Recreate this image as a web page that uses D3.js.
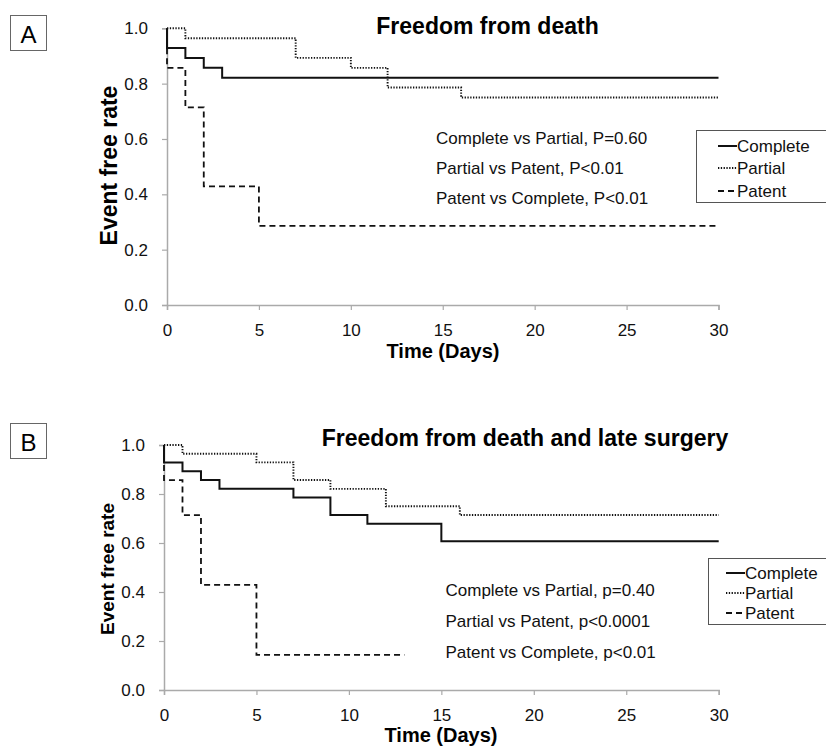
<!DOCTYPE html>
<html><head><meta charset="utf-8">
<script src="https://cdn.jsdelivr.net/npm/d3@7"></script>
<style>body{margin:0;background:#fff}svg{display:block}text{font-family:"Liberation Sans",Arial,Helvetica,sans-serif}</style>
</head><body><svg id="c" width="826" height="747"></svg>
<script>
// ---- data ----
const xTicks = [0, 5, 10, 15, 20, 25, 30];
const yTicks = [0, 0.2, 0.4, 0.6, 0.8, 1.0];
const seriesNames = ["Complete", "Partial", "Patent"];

const aTitle = "Freedom from death";
const aCompleteT = [0, 0, 1, 2, 3, 30];
const aCompleteS = [1, 0.929, 0.893, 0.857, 0.821, 0.821];
const aPartialT = [0, 1, 7, 10, 12, 16, 30];
const aPartialS = [1, 0.964, 0.893, 0.857, 0.786, 0.75, 0.75];
const aPatentT = [0, 0, 1, 2, 5, 30];
const aPatentS = [1, 0.857, 0.714, 0.429, 0.286, 0.286];
const aStats = ["Complete vs Partial, P=0.60", "Partial vs Patent, P<0.01", "Patent vs Complete, P<0.01"];

const bTitle = "Freedom from death and late surgery";
const bCompleteT = [0, 0, 1, 2, 3, 7, 9, 11, 15, 30];
const bCompleteS = [1, 0.929, 0.893, 0.857, 0.821, 0.786, 0.714, 0.679, 0.607, 0.607];
const bPartialT = [0, 1, 5, 7, 9, 12, 16, 30];
const bPartialS = [1, 0.964, 0.929, 0.857, 0.821, 0.75, 0.714, 0.714];
const bPatentT = [0, 0, 1, 2, 5, 13];
const bPatentS = [1, 0.857, 0.714, 0.429, 0.143, 0.143];
const bStats = ["Complete vs Partial, p=0.40", "Partial vs Patent, p<0.0001", "Patent vs Complete, p<0.01"];

const styles = {
  Complete: {dash: null, w: 2},
  Partial: {dash: "1.3,1.5", w: 1.9},
  Patent: {dash: "6,4", w: 1.8}
};

const svg = d3.select("#c");
svg.append("rect").attr("width", 826).attr("height", 747).attr("fill", "#fff");

function panel(cfg) {
  const x = d3.scaleLinear().domain([0, 30]).range([cfg.x0, cfg.x1]);
  const y = d3.scaleLinear().domain([0, 1]).range([cfg.y0, cfg.y1]);
  const g = svg.append("g");

  // letter box
  g.append("rect").attr("x", 10.5).attr("y", cfg.boxY + 0.5).attr("width", 36).attr("height", 35)
    .attr("fill", "none").attr("stroke", "#666").attr("stroke-width", 1);
  g.append("text").attr("x", 28.5).attr("y", cfg.boxY + 27.5).attr("text-anchor", "middle")
    .attr("font-size", 24).text(cfg.letter);

  // axes
  const xa = g.append("g").attr("transform", `translate(0,${cfg.y0})`)
    .call(d3.axisBottom(x).tickValues(xTicks).tickSize(5).tickPadding(8).tickFormat(d3.format("d")));
  const ya = g.append("g").attr("transform", `translate(${cfg.x0},0)`)
    .call(d3.axisLeft(y).tickValues(yTicks).tickSize(5).tickPadding(14).tickFormat(d3.format(".1f")));
  [xa, ya].forEach(a => {
    a.select(".domain").attr("stroke", "#aaa").attr("stroke-width", 1.5);
    a.selectAll(".tick line").attr("stroke", "#aaa").attr("stroke-width", 1.2);
    a.selectAll(".tick text").attr("font-size", 17).attr("fill", "#111")
      .attr("font-family", '"Liberation Sans",Arial,sans-serif');
  });
  xa.selectAll(".tick text").attr("dy", "1.05em");

  // curves
  const line = d3.line().curve(d3.curveStepAfter).x(d => x(d[0])).y(d => y(d[1]));
  cfg.series.forEach(s => {
    const pts = s.t.map((t, i) => [t, s.s[i]]);
    const st = styles[s.name];
    g.append("path").attr("d", line(pts)).attr("fill", "none").attr("stroke", "#111")
      .attr("stroke-width", st.w).attr("stroke-dasharray", st.dash);
  });

  // title
  g.append("text").attr("x", cfg.titleX).attr("y", cfg.titleY).attr("text-anchor", "middle")
    .attr("font-size", 23).attr("font-weight", "bold").text(cfg.title);

  // axis labels
  g.append("text").attr("transform", `translate(${cfg.ylabX},${cfg.ylabY}) rotate(-90)`)
    .attr("text-anchor", "middle").attr("font-size", cfg.ylabSize).attr("font-weight", "bold").text("Event free rate");
  g.append("text").attr("x", cfg.xlabX).attr("y", cfg.xlabY).attr("text-anchor", "middle")
    .attr("font-size", 20).attr("font-weight", "bold").text("Time (Days)");

  // stats
  cfg.stats.forEach((t, i) => {
    g.append("text").attr("x", cfg.statsX).attr("y", cfg.statsY[i]).attr("font-size", 17).attr("fill", "#111").text(t);
  });

  // legend
  const L = cfg.leg;
  g.append("rect").attr("x", L.x + 0.5).attr("y", L.y + 0.5).attr("width", 140).attr("height", L.h)
    .attr("fill", "#fff").attr("stroke", "#555").attr("stroke-width", 1);
  seriesNames.forEach((n, i) => {
    const by = L.rows[i];
    const st = styles[n];
    g.append("line").attr("x1", L.lx).attr("x2", L.lx + 19).attr("y1", by - 6).attr("y2", by - 6)
      .attr("stroke", "#111").attr("stroke-width", st.w).attr("stroke-dasharray", st.dash);
    g.append("text").attr("x", L.lx + 19).attr("y", by).attr("font-size", 17).attr("fill", "#111").text(n);
  });
}

panel({
  letter: "A", boxY: 15, x0: 167, x1: 718.5, y0: 305, y1: 28.3,
  title: aTitle, titleX: 487.5, titleY: 34,
  ylabX: 117, ylabY: 165.5, ylabSize: 23, xlabX: 443, xlabY: 358,
  stats: aStats, statsX: 436, statsY: [144, 174, 204],
  leg: {x: 696, y: 130, h: 72, lx: 718, rows: [152, 174, 197]},
  series: [
    {name: "Complete", t: aCompleteT, s: aCompleteS},
    {name: "Partial", t: aPartialT, s: aPartialS},
    {name: "Patent", t: aPatentT, s: aPatentS}
  ]
});

panel({
  letter: "B", boxY: 423, x0: 164, x1: 718.7, y0: 690, y1: 445,
  title: bTitle, titleX: 525, titleY: 446,
  ylabX: 114, ylabY: 569, ylabSize: 19, xlabX: 441, xlabY: 742,
  stats: bStats, statsX: 445.5, statsY: [596, 627, 658],
  leg: {x: 708, y: 558, h: 66, lx: 726, rows: [579, 599, 619]},
  series: [
    {name: "Complete", t: bCompleteT, s: bCompleteS},
    {name: "Partial", t: bPartialT, s: bPartialS},
    {name: "Patent", t: bPatentT, s: bPatentS}
  ]
});
</script></body></html>
